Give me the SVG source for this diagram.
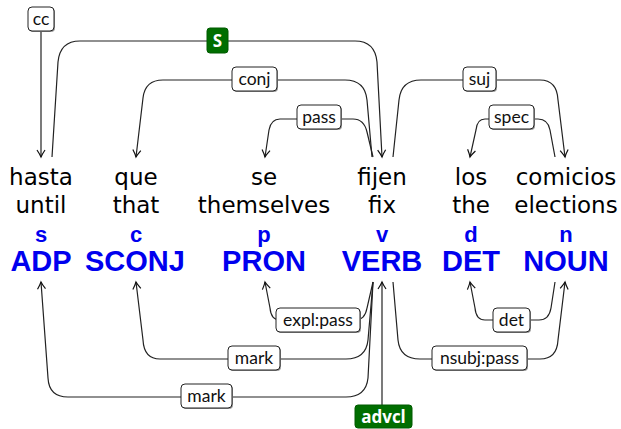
<svg xmlns="http://www.w3.org/2000/svg" width="621" height="429" viewBox="0 0 621 429">
<style>
.w{font-family:"DejaVu Sans",sans-serif;font-size:23px;fill:#000;text-anchor:middle}
.t{font-family:"Liberation Sans",Arial,sans-serif;font-weight:bold;fill:#0000ee;text-anchor:middle}
.s{font-size:22px}
.p{font-size:29px}
.e{fill:none;stroke:#222;stroke-width:1.2}
.lb rect.b{fill:#fff;stroke:#222;stroke-width:1}
.lb rect.sh{fill:#999}
.lb text{font-family:Lato,"Open Sans",sans-serif;font-size:17.5px;fill:#111;text-anchor:middle}
.g rect.b{fill:#006e00;stroke:#005a00;stroke-width:1}
.g text{font-family:"Open Sans","DejaVu Sans",sans-serif;font-weight:bold;font-size:17px;fill:#fff;text-anchor:middle}
</style>
<defs>
<marker id="ar" markerUnits="userSpaceOnUse" markerWidth="12" markerHeight="12" refX="0" refY="0" viewBox="-8 -6 10 12" orient="auto" overflow="visible">
<path d="M-7,-4 Q-2.5,-1 0,0 Q-2.5,1 -7,4" fill="none" stroke="#111" stroke-width="1.2"/>
</marker>
</defs>
<g id="connectors">
<path class="e" d="M41,32 L41,157" marker-end="url(#ar)"/>
<path class="e" d="M52,157 L58,62 Q60,41 80,41 L355,41 Q375,41 377,62 L382,157" marker-end="url(#ar)"/>
<path class="e" d="M372,157 L367,100 Q365,80 345,80 L163,80 Q145,80 143,98 L136,157" marker-end="url(#ar)"/>
<path class="e" d="M373,157 L367,132 Q364,119 353,119 L280,119 Q271,119 269,130 L265,157" marker-end="url(#ar)"/>
<path class="e" d="M393,157 L399,100 Q401,80 421,80 L540,80 Q557,80 558,100 L565,157" marker-end="url(#ar)"/>
<path class="e" d="M555,157 L550,130 Q548,119 538,119 L485,119 Q477,119 476,130 L470,157" marker-end="url(#ar)"/>
<path class="e" d="M373,282 L367,308 Q365,320 355,320 L280,320 Q271,320 270,308 L265,282" marker-end="url(#ar)"/>
<path class="e" d="M373,282 L368,340 Q366,359 346,359 L160,359 Q144,359 143,340 L136,282" marker-end="url(#ar)"/>
<path class="e" d="M373,282 L368,378 Q366,397 346,397 L68,397 Q49,397 48,378 L41,282" marker-end="url(#ar)"/>
<path class="e" d="M382,405 L382,282" marker-end="url(#ar)"/>
<path class="e" d="M555,282 L551,308 Q549,320 539,320 L485,320 Q476,320 475,308 L470,282" marker-end="url(#ar)"/>
<path class="e" d="M393,282 L398,340 Q400,359 420,359 L540,359 Q557,359 558,340 L565,282" marker-end="url(#ar)"/>
</g>
<g id="w-hasta"><text class="w" x="41" y="185">hasta</text><text class="w" x="41" y="213">until</text><text class="t s" x="41" y="242">s</text><text class="t p" x="41" y="271">ADP</text></g>
<g id="w-que"><text class="w" x="136" y="185">que</text><text class="w" x="136" y="213">that</text><text class="t s" x="136" y="242">c</text><text class="t p" x="135" y="271">SCONJ</text></g>
<g id="w-se"><text class="w" x="264" y="185">se</text><text class="w" x="264" y="213">themselves</text><text class="t s" x="264" y="242">p</text><text class="t p" x="264" y="271">PRON</text></g>
<g id="w-fijen"><text class="w" x="382" y="185">fijen</text><text class="w" x="382" y="213">fix</text><text class="t s" x="382" y="242">v</text><text class="t p" x="382" y="271">VERB</text></g>
<g id="w-los"><text class="w" x="471" y="185">los</text><text class="w" x="471" y="213">the</text><text class="t s" x="471" y="242">d</text><text class="t p" x="471" y="271">DET</text></g>
<g id="w-comicios"><text class="w" x="566" y="185">comicios</text><text class="w" x="566" y="213">elections</text><text class="t s" x="566" y="242">n</text><text class="t p" x="566" y="271">NOUN</text></g>
<g id="l-cc" class="lb"><rect class="sh" x="29" y="8" width="26" height="24" rx="4"/><rect class="b" x="28" y="7" width="26" height="24" rx="4"/><text x="41" y="25">cc</text></g>
<g id="l-S" class="g"><rect class="b" x="207" y="28" width="21" height="25" rx="3"/><text x="217.5" y="47">S</text></g>
<g id="l-conj" class="lb"><rect class="sh" x="233" y="68" width="45" height="24" rx="4"/><rect class="b" x="232" y="67" width="45" height="24" rx="4"/><text x="254.5" y="85">conj</text></g>
<g id="l-pass" class="lb"><rect class="sh" x="298" y="106" width="44" height="24" rx="4"/><rect class="b" x="297" y="105" width="44" height="24" rx="4"/><text x="319" y="123">pass</text></g>
<g id="l-suj" class="lb"><rect class="sh" x="464" y="68" width="33" height="24" rx="4"/><rect class="b" x="463" y="67" width="33" height="24" rx="4"/><text x="479.5" y="85">suj</text></g>
<g id="l-spec" class="lb"><rect class="sh" x="490" y="106" width="45" height="24" rx="4"/><rect class="b" x="489" y="105" width="45" height="24" rx="4"/><text x="511.5" y="123">spec</text></g>
<g id="l-explpass" class="lb"><rect class="sh" x="277" y="309" width="84" height="24" rx="4"/><rect class="b" x="276" y="308" width="84" height="24" rx="4"/><text x="318" y="326">expl:pass</text></g>
<g id="l-mark1" class="lb"><rect class="sh" x="229" y="347" width="52" height="24" rx="4"/><rect class="b" x="228" y="346" width="52" height="24" rx="4"/><text x="254" y="364">mark</text></g>
<g id="l-mark2" class="lb"><rect class="sh" x="182" y="385" width="51" height="24" rx="4"/><rect class="b" x="181" y="384" width="51" height="24" rx="4"/><text x="206.5" y="402">mark</text></g>
<g id="l-det" class="lb"><rect class="sh" x="494" y="309" width="37" height="24" rx="4"/><rect class="b" x="493" y="308" width="37" height="24" rx="4"/><text x="511.5" y="326">det</text></g>
<g id="l-nsubjpass" class="lb"><rect class="sh" x="433" y="347" width="95" height="24" rx="4"/><rect class="b" x="432" y="346" width="95" height="24" rx="4"/><text x="479.5" y="364">nsubj:pass</text></g>
<g id="l-advcl" class="g"><rect class="b" x="355" y="405" width="57" height="23" rx="3"/><text x="383.5" y="423">advcl</text></g>
</svg>
